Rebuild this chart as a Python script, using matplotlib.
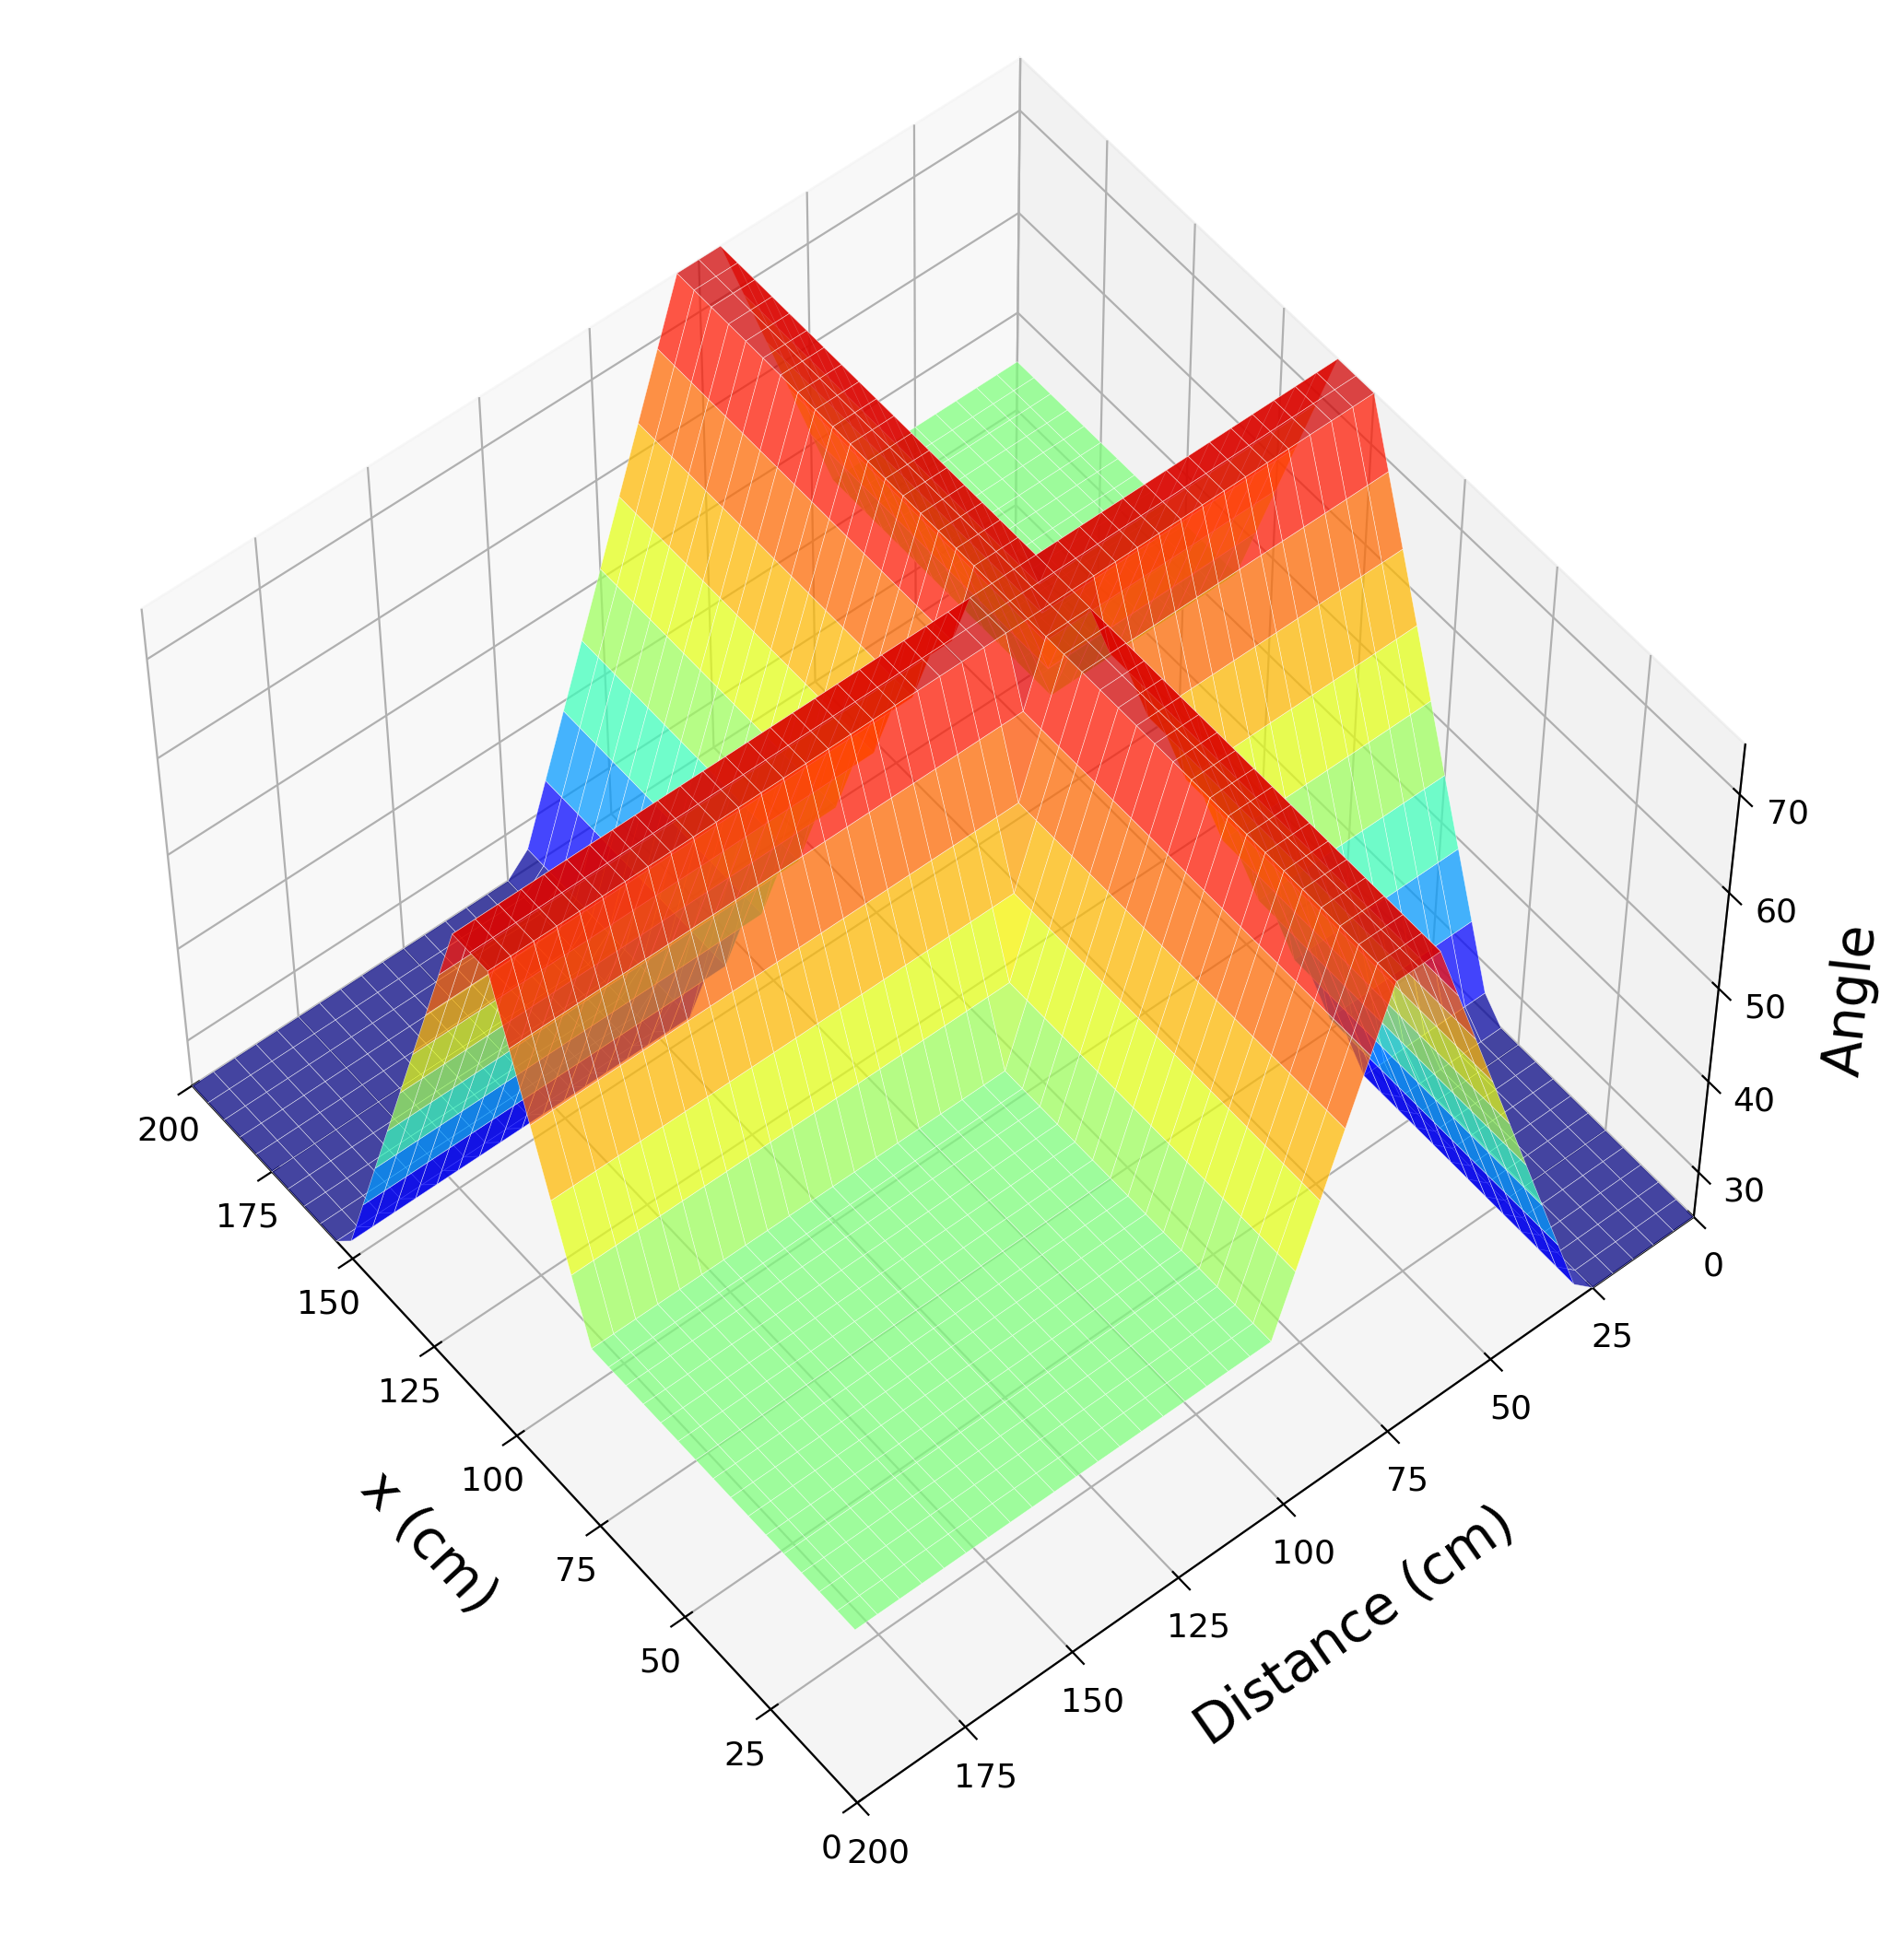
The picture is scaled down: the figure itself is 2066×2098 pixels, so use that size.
import numpy as np
import matplotlib
matplotlib.use("Agg")
import matplotlib.pyplot as plt
from matplotlib import cm
from matplotlib.colors import TwoSlopeNorm

# data
x_vals = np.arange(0, 201, 5)
d_vals = np.arange(0, 201, 5)
ridge_center_x = 105
ridge_center_d = 75
ridge_offset = [0, 5, 10, 15, 20, 25, 30, 35, 40, 45]
ridge_height = [75, 75, 69, 63, 57, 51, 45, 39, 33, 27]
base_high = 45
base_low = 25

def ridge(dist):
    return np.interp(np.abs(dist), ridge_offset, ridge_height, right=0)

X, D = np.meshgrid(x_vals, d_vals)
base = np.where((X - ridge_center_x) * (D - ridge_center_d) < 0, base_high, base_low)
Z = np.maximum(base, np.maximum(ridge(D - ridge_center_d), ridge(X - ridge_center_x)))

fig = plt.figure(figsize=(10.33, 10.49), dpi=200)
ax = fig.add_subplot(111, projection='3d')
norm = TwoSlopeNorm(vmin=25, vcenter=45, vmax=80)
ax.plot_surface(X, D, Z, cmap=cm.jet, norm=norm, alpha=0.72,
                rstride=1, cstride=1, linewidth=0.2, edgecolor=(1, 1, 1, 0.15), antialiased=True)
ax.view_init(elev=55, azim=141)
ax.set_box_aspect(None, zoom=0.9)
ax.set_xlim(0, 200); ax.set_ylim(0, 200); ax.set_zlim(25, 75)
ax.set_xticks(np.arange(0, 201, 25)); ax.set_yticks(np.arange(0, 201, 25))
ax.set_zticks([30, 40, 50, 60, 70])
ax.tick_params(labelsize=13)
ax.set_xlabel('x (cm)', fontsize=21, labelpad=20)
ax.set_ylabel('Distance (cm)', fontsize=21, labelpad=20)
ax.set_zlabel('Angle', fontsize=21, labelpad=12)
ax.set_position([-0.02, 0.01, 1.0, 1.0])
fig.savefig('out.png', dpi=200)
